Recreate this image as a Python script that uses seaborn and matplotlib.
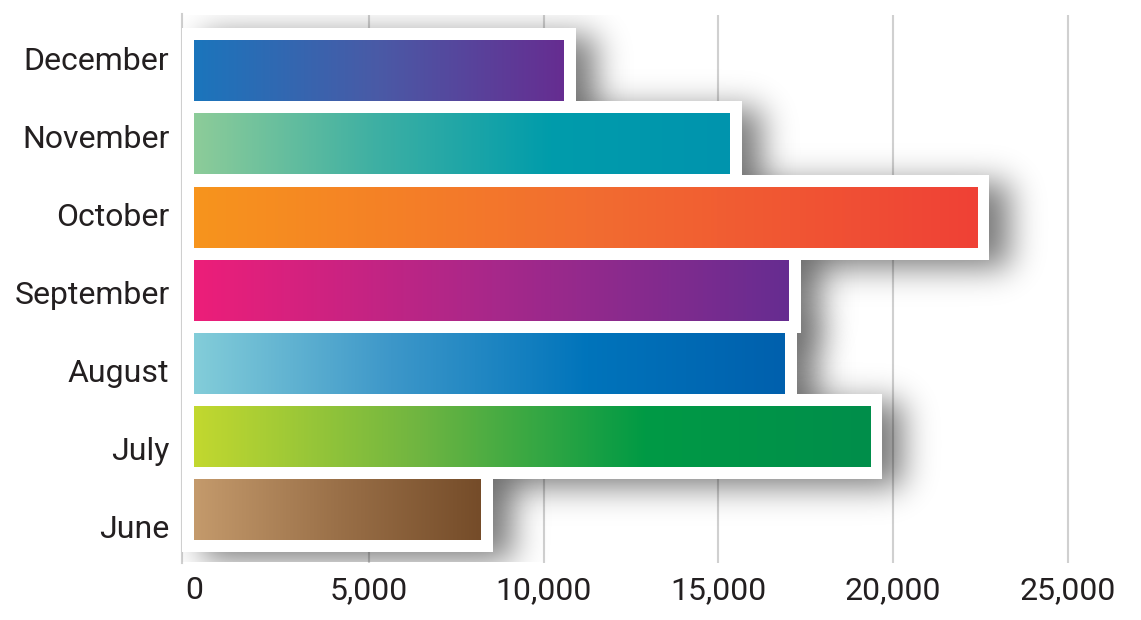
import math
import numpy as np
import pandas as pd
import matplotlib
matplotlib.use("Agg")
import matplotlib.pyplot as plt
import seaborn as sns
from matplotlib.colors import LinearSegmentedColormap
from matplotlib.patches import Rectangle

# data, top to bottom as in the chart
months = ["December", "November", "October", "September", "August", "July", "June"]
sales = [10570, 15320, 22410, 17010, 16910, 19350, 8200]
xticks = [0, 5000, 10000, 15000, 20000, 25000]

# gradient stops (left -> right) for every bar
gradients = [
    ["#1b75bc", "#4a5aa6", "#662d91"],
    ["#8dcc99", "#3fb0a3", "#009cab", "#0094ae"],
    ["#f7941d", "#f26d30", "#ef4136"],
    ["#ed1e79", "#a8288a", "#662d91"],
    ["#83cdd9", "#3d97c9", "#0074bb", "#0060ad"],
    ["#c2d82f", "#6fb541", "#009a45", "#008e4b"],
    ["#c49a6c", "#9a7048", "#754c29"],
]

sns.set_theme(style="white")
plt.rcParams["font.family"] = ["Roboto", "DejaVu Sans"]

W, H = 1141, 620
fig = plt.figure(figsize=(W / 100, H / 100), dpi=100)
ax = fig.add_axes([182 / W, 1 - 562.5 / H, (1100 - 182) / W, (562.5 - 14.5) / H])

df = pd.DataFrame({"month": months, "sales": sales})
sns.barplot(data=df, x="sales", y="month", order=months, color="white",
            width=0.833, ax=ax, saturation=1)

ax.set_xlim(-352, 25920)
ax.set_ylim(6.717, -0.765)

# px per data unit
p0 = ax.transData.transform((0, 0))
p1 = ax.transData.transform((1, 1))
px_x = abs(p1[0] - p0[0])
px_y = abs(p1[1] - p0[1])

border = 12
sh_dx, sh_dy, sh_sig, sh_amax = 20, 8, 16, 0.53


def edge_profile(v, a, b, s):
    k = s * math.sqrt(2)
    return np.array([0.5 * (math.erf((t - a) / k) - math.erf((t - b) / k)) for t in v])


for i, bar in enumerate(ax.patches):
    x0, y0 = bar.get_x(), bar.get_y()
    w, h = bar.get_width(), bar.get_height()
    bx, by = border / px_x, border / px_y
    zb = 10 + i * 4

    # white frame
    L, R = x0 - bx, x0 + w + bx
    T, B = y0 - by, y0 + h + by

    # blurred drop shadow, kept under every frame
    dx, dy = sh_dx / px_x, sh_dy / px_y
    sx, sy = sh_sig / px_x, sh_sig / px_y
    xs = np.linspace(L + dx - 4 * sx, R + dx + 4 * sx, int((R - L) * px_x + 8 * sh_sig + 40))
    ys = np.linspace(T + dy - 4 * sy, B + dy + 4 * sy, int((B - T) * px_y + 8 * sh_sig + 40))
    alpha = sh_amax * np.outer(edge_profile(ys, T + dy, B + dy, sy),
                               edge_profile(xs, L + dx, R + dx, sx))
    rgba = np.zeros((len(ys), len(xs), 4))
    rgba[..., 3] = alpha
    ax.imshow(rgba, extent=(xs[0], xs[-1], ys[-1], ys[0]), origin="upper",
              aspect="auto", zorder=3, interpolation="bilinear")

    ax.add_patch(Rectangle((L, T), R - L, B - T, facecolor="white",
                           edgecolor="none", zorder=zb + 1))

    # gradient fill clipped to the seaborn bar
    cmap = LinearSegmentedColormap.from_list(f"g{i}", gradients[i])
    grad = np.linspace(0, 1, 256).reshape(1, -1)
    im = ax.imshow(grad, cmap=cmap, extent=(x0, x0 + w, y0 + h, y0),
                   aspect="auto", zorder=zb + 2, interpolation="bilinear")
    im.set_clip_path(bar)
    bar.set_facecolor("none")
    bar.set_edgecolor("none")
    bar.set_zorder(zb + 3)

ax.set_xlim(-352, 25920)
ax.set_ylim(6.717, -0.765)

# grid
for t in xticks[1:]:
    ax.axvline(t, color="#d0d0d0", lw=1.5, zorder=1)

for s in ["top", "right", "bottom"]:
    ax.spines[s].set_visible(False)
ax.spines["left"].set_color("#cfcfcf")
ax.spines["left"].set_linewidth(1.5)
ax.spines["left"].set_zorder(0.5)

ax.set_xticks(xticks)
ax.set_xticklabels([f"{t:,}" for t in xticks])
# the month labels in the original sit on a slightly wider pitch than the bars
ax.set_yticks(np.linspace(-0.17, 6.23, len(months)))
ax.set_yticklabels(months)
ax.tick_params(axis="x", length=0, pad=10, labelsize=23, labelcolor="#231f20")
ax.tick_params(axis="y", length=0, pad=9, labelsize=23, labelcolor="#231f20")
ax.set_xlabel("")
ax.set_ylabel("")

fig.savefig("out.png", dpi=100)
